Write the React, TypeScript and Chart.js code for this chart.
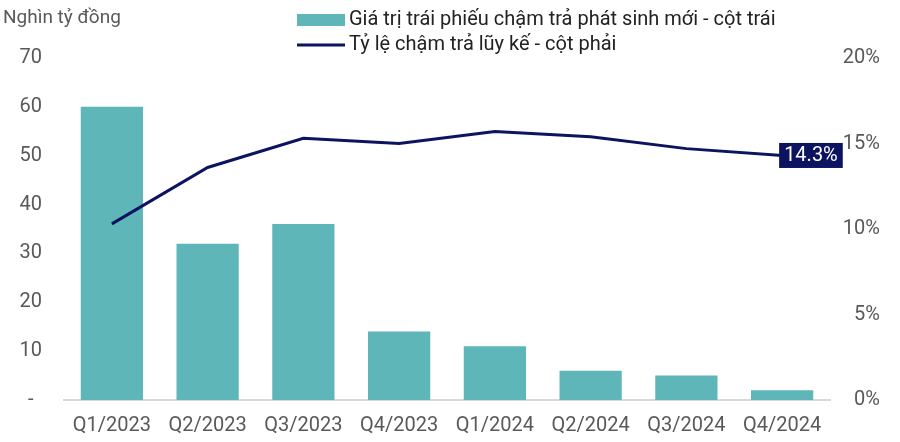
import React, { useEffect, useRef } from "react";
import { Chart, registerables } from "chart.js";

Chart.register(...registerables);

const categories = ["Q1/2023", "Q2/2023", "Q3/2023", "Q4/2023", "Q1/2024", "Q2/2024", "Q3/2024", "Q4/2024"];
const newDelayValues = [60, 32, 36, 14, 11, 6, 5, 2];
const cumulativeRate = [10.3, 13.6, 15.3, 15.0, 15.7, 15.4, 14.7, 14.3];
const leftTicks = [0, 10, 20, 30, 40, 50, 60, 70];
const rightTicks = [0, 5, 10, 15, 20];
const barLabel = "Giá trị trái phiếu chậm trả phát sinh mới - cột trái";
const lineLabel = "Tỷ lệ chậm trả lũy kế - cột phải";
const unitTitle = "Nghìn tỷ đồng";

const TEAL = "#5fb6b9";
const NAVY = "#0c1461";
const GREY = "#595959";
const FONT = "Roboto, 'Noto Sans', sans-serif";

const overlayPlugin = {
  id: "overlay",
  afterDraw(chart: any) {
    const ctx = chart.ctx;
    ctx.save();
    ctx.font = `19px ${FONT}`;
    ctx.fillStyle = GREY;
    ctx.textBaseline = "middle";
    ctx.textAlign = "left";
    ctx.fillText(unitTitle, 3, 18);
    ctx.fillStyle = TEAL;
    ctx.fillRect(297, 14, 48, 12);
    ctx.strokeStyle = NAVY;
    ctx.lineWidth = 3;
    ctx.beginPath();
    ctx.moveTo(297, 45);
    ctx.lineTo(345, 45);
    ctx.stroke();
    ctx.fillStyle = "#222222";
    ctx.font = `20px ${FONT}`;
    ctx.fillText(barLabel, 349, 20);
    ctx.fillText(lineLabel, 349, 45);
    const meta = chart.getDatasetMeta(1);
    const pt = meta.data[meta.data.length - 1];
    const txt = cumulativeRate[cumulativeRate.length - 1].toFixed(1) + "%";
    ctx.font = `20px ${FONT}`;
    const w = ctx.measureText(txt).width + 10;
    const h = 25;
    const x0 = pt.x - 3;
    ctx.fillStyle = NAVY;
    ctx.fillRect(x0, pt.y - h / 2, w, h);
    ctx.fillStyle = "#ffffff";
    ctx.textAlign = "left";
    ctx.fillText(txt, x0 + 5, pt.y + 1);
    ctx.restore();
  },
};

export default function App() {
  const ref = useRef<HTMLCanvasElement>(null);
  useEffect(() => {
    if (!ref.current) return;
    const chart = new Chart(ref.current, {
      type: "bar",
      data: {
        labels: categories,
        datasets: [
          {
            type: "bar",
            label: barLabel,
            data: newDelayValues,
            backgroundColor: TEAL,
            barPercentage: 0.65,
            categoryPercentage: 1,
            yAxisID: "y",
            order: 2,
          },
          {
            type: "line",
            label: lineLabel,
            data: cumulativeRate,
            borderColor: NAVY,
            borderWidth: 3,
            pointRadius: 0,
            tension: 0,
            yAxisID: "y1",
            order: 1,
          } as any,
        ],
      },
      options: {
        animation: false,
        responsive: false,
        devicePixelRatio: 1,
        layout: { padding: { top: 58, left: 0, right: 20, bottom: 0 } },
        plugins: { legend: { display: false }, tooltip: { enabled: false } },
        scales: {
          x: {
            grid: { display: false, drawTicks: false },
            border: { display: true, color: "#d9d9d9", width: 2 },
            ticks: { color: GREY, font: { family: FONT, size: 20 }, padding: 14, maxRotation: 0 },
            afterFit: (s: any) => { s.height = 42; },
          },
          y: {
            position: "left",
            min: 0,
            max: 70,
            afterBuildTicks: (s: any) => { s.ticks = leftTicks.map((v) => ({ value: v })); },
            grid: { display: false, drawTicks: false },
            border: { display: false },
            ticks: {
              color: GREY,
              font: { family: FONT, size: 20 },
              crossAlign: "center",
              padding: 22,
              callback: (v: any) => (v === 0 ? "-" : String(v)),
            },
            afterFit: (s: any) => { s.width = 64; },
          },
          y1: {
            position: "right",
            min: 0,
            max: 20,
            afterBuildTicks: (s: any) => { s.ticks = rightTicks.map((v) => ({ value: v })); },
            grid: { display: false, drawTicks: false },
            border: { display: false },
            ticks: {
              color: GREY,
              font: { family: FONT, size: 20 },
              crossAlign: "far",
              padding: 0,
              callback: (v: any) => v + "%",
            },
            afterFit: (s: any) => { s.width = 50; },
          },
        },
      },
      plugins: [overlayPlugin],
    });
    return () => chart.destroy();
  }, []);
  return (
    <div style={{ position: "fixed", left: 0, top: 0, width: 900, height: 442, background: "#fff" }}>
      <canvas ref={ref} width={900} height={442} style={{ width: 900, height: 442 }} />
    </div>
  );
}
